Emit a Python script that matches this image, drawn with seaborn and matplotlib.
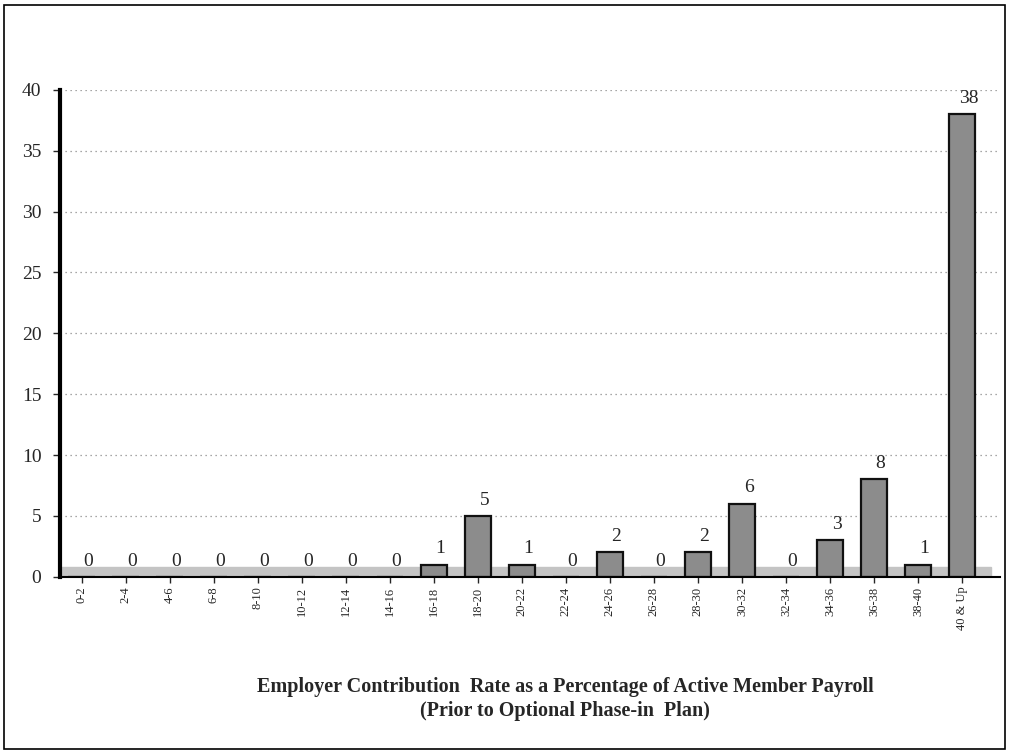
import matplotlib
matplotlib.use("Agg")
import matplotlib.pyplot as plt
import seaborn as sns
import pandas as pd
from matplotlib.patches import Rectangle

categories = ["0-2", "2-4", "4-6", "6-8", "8-10", "10-12", "12-14", "14-16", "16-18",
              "18-20", "20-22", "22-24", "24-26", "26-28", "28-30", "30-32", "32-34",
              "34-36", "36-38", "38-40", "40 & Up"]
counts = [0, 0, 0, 0, 0, 0, 0, 0, 1, 5, 1, 0, 2, 0, 2, 6, 0, 3, 8, 1, 38]
y_ticks = [0, 5, 10, 15, 20, 25, 30, 35, 40]
title_lines = ["Employer Contribution  Rate as a Percentage of Active Member Payroll",
               "(Prior to Optional Phase-in  Plan)"]

sns.set_theme(style="white")
plt.rcParams['font.family'] = ['Liberation Serif', 'DejaVu Serif']

df = pd.DataFrame({"cat": categories, "count": counts})

fig = plt.figure(figsize=(10.09, 7.55), dpi=100)
ax = fig.add_axes([0.059, 0.236, 0.932, 0.645])

# floor band
ax.axhspan(0, 0.8, xmin=0.0, xmax=0.99, color="#c4c4c4", zorder=0.5)

sns.barplot(data=df, x="cat", y="count", ax=ax, color="#8c8c8c",
            edgecolor="#111111", linewidth=1.6, width=0.6, saturation=1, zorder=2)

ax.set_ylim(0, 40)
ax.set_xlim(-0.5, 20.86)
ax.set_yticks(y_ticks)
ax.set_yticklabels([str(v) for v in y_ticks], fontsize=14)
ax.set_xticks(range(len(categories)))
ax.set_xticklabels(categories, rotation=90, fontsize=9)
ax.set_xlabel("")
ax.set_ylabel("")

for v in y_ticks[1:]:
    ax.axhline(v, color="#8a8a8a", linestyle=(0, (1, 3)), linewidth=0.9, zorder=0)

for i, v in enumerate(counts):
    ax.text(i + 0.15, v + 0.6, str(v), ha="center", va="bottom", fontsize=14)

for s in ["top", "right"]:
    ax.spines[s].set_visible(False)
ax.spines["left"].set_linewidth(3)
ax.spines["left"].set_color("black")
ax.spines["bottom"].set_linewidth(1.5)
ax.spines["bottom"].set_color("black")
ax.tick_params(axis="y", direction="out", length=5, width=1, left=True, pad=8)
ax.tick_params(axis="x", direction="out", length=4, width=1, bottom=True, pad=3)

fig.text(0.56, 0.09, title_lines[0], ha="center", va="center", fontsize=14.5, fontweight="bold")
fig.text(0.56, 0.058, title_lines[1], ha="center", va="center", fontsize=14.5, fontweight="bold")

fig.patches.append(Rectangle((0.004, 0.008), 0.992, 0.986, transform=fig.transFigure,
                             fill=False, edgecolor="black", linewidth=1.2))

fig.savefig("out.png", dpi=100)
